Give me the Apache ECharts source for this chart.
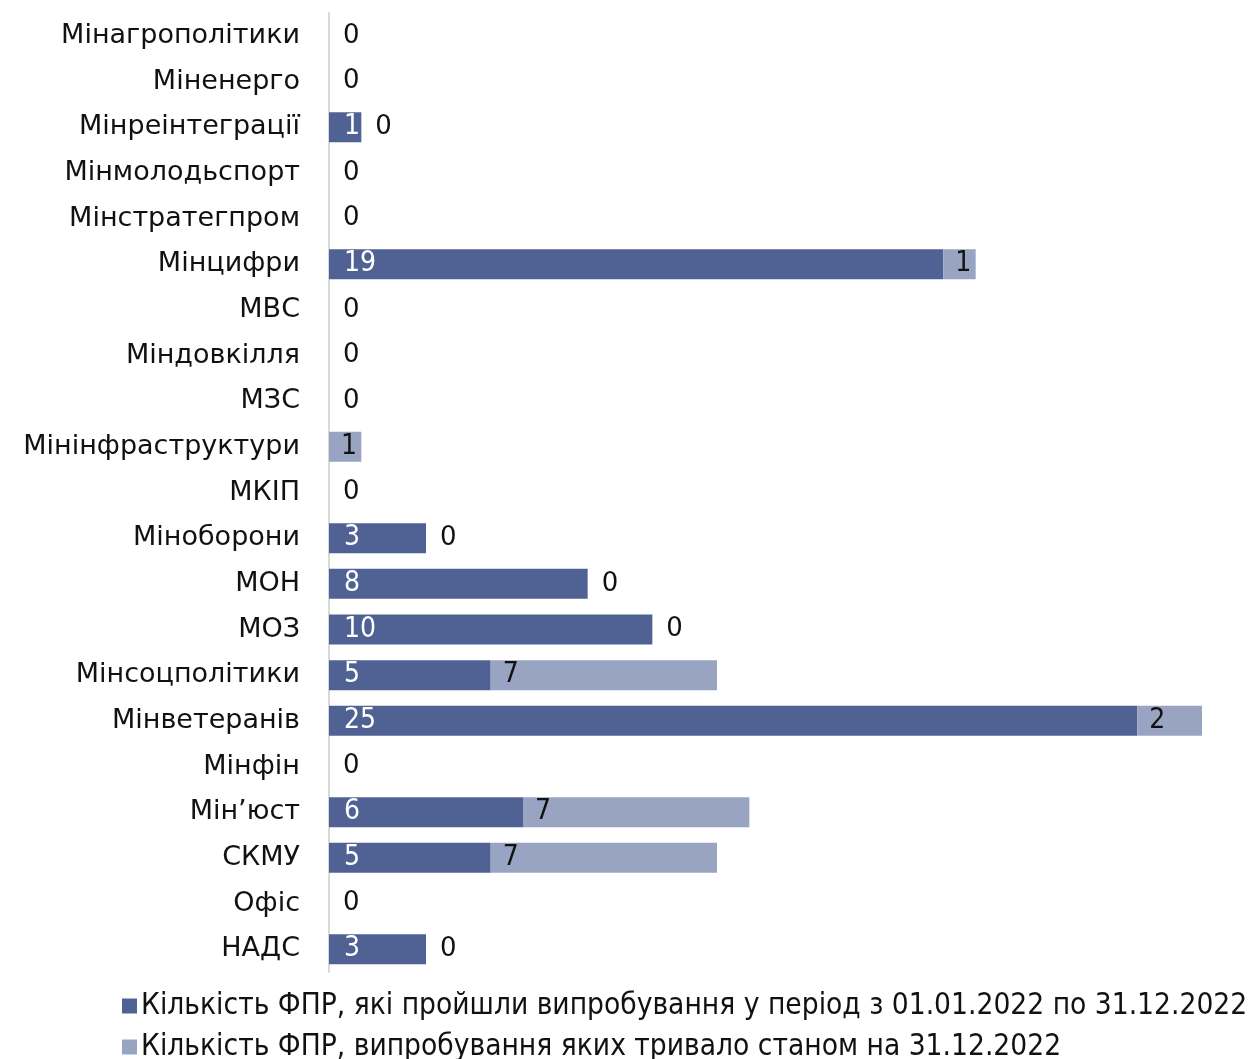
<!DOCTYPE html>
<html>
<head>
<meta charset="utf-8">
<script src="https://cdn.jsdelivr.net/npm/echarts@6/dist/echarts.min.js"></script>
<style>html,body{margin:0;padding:0;background:#fff;}#c{width:1249px;height:1059px;}</style>
</head>
<body>
<div id="c"></div>
<script>
const categories = ['Мінагрополітики','Міненерго','Мінреінтеграції','Мінмолодьспорт','Мінстратегпром','Мінцифри','МВС','Міндовкілля','МЗС','Мінінфраструктури','МКІП','Міноборони','МОН','МОЗ','Мінсоцполітики','Мінветеранів','Мінфін','Мін’юст','СКМУ','Офіс','НАДС'];
const passed = [0,0,1,0,0,19,0,0,0,0,0,3,8,10,5,25,0,6,5,0,3];
const ongoing = [0,0,0,0,0,1,0,0,0,1,0,0,0,0,7,2,0,7,7,0,0];
const seriesNames = ['Кількість ФПР, які пройшли випробування у період з 01.01.2022 по 31.12.2022','Кількість ФПР, випробування яких тривало станом на 31.12.2022'];

const narrow = '"Liberation Sans Narrow", "DejaVu Sans Condensed", "Roboto Condensed", sans-serif';
const wide = '"DejaVu Sans", sans-serif';

const legendBase = {
  orient: 'vertical', left: 117, itemGap: 10,
  itemWidth: 15, itemHeight: 15, icon: 'rect',
  textStyle: {fontFamily: narrow, fontSize: 29.6, color: '#111', padding: [0,0,0,-1]}
};

const chart = echarts.init(document.getElementById('c'));
chart.setOption({
  animation: false,
  grid: {left: 329, top: 13, width: 873, bottom: 87, containLabel: false},
  xAxis: {type: 'value', min: 0, max: 27, show: false},
  yAxis: {
    type: 'category', data: categories, inverse: true,
    axisLine: {show: true, lineStyle: {color: '#d9d9d9', width: 2}},
    axisTick: {show: false},
    axisLabel: {margin: 29, fontFamily: wide, fontSize: 27, color: '#111'}
  },
  legend: [
    Object.assign({}, legendBase, {top: 986, data: [seriesNames[0]]}),
    Object.assign({}, legendBase, {top: 1027, data: [seriesNames[1]]})
  ],
  series: [
    {
      name: seriesNames[0], type: 'bar', stack: 'a', barWidth: 30,
      itemStyle: {color: '#4f6293'},
      label: {show: true, position: 'insideLeft', distance: 15, color: '#fff', fontFamily: narrow, fontSize: 28,
        formatter: p => p.value === 0 ? '' : String(p.value)},
      data: passed
    },
    {
      name: seriesNames[1], type: 'bar', stack: 'a', barWidth: 30,
      itemStyle: {color: '#98a4c2'},
      data: ongoing.map(v => v === 0
        ? {value: v, label: {show: true, position: 'right', distance: 14, color: '#111', fontFamily: wide, fontSize: 26}}
        : {value: v, label: {show: true, position: 'insideLeft', distance: 12, color: '#111', fontFamily: narrow, fontSize: 28}})
    }
  ]
});
</script>
</body>
</html>
